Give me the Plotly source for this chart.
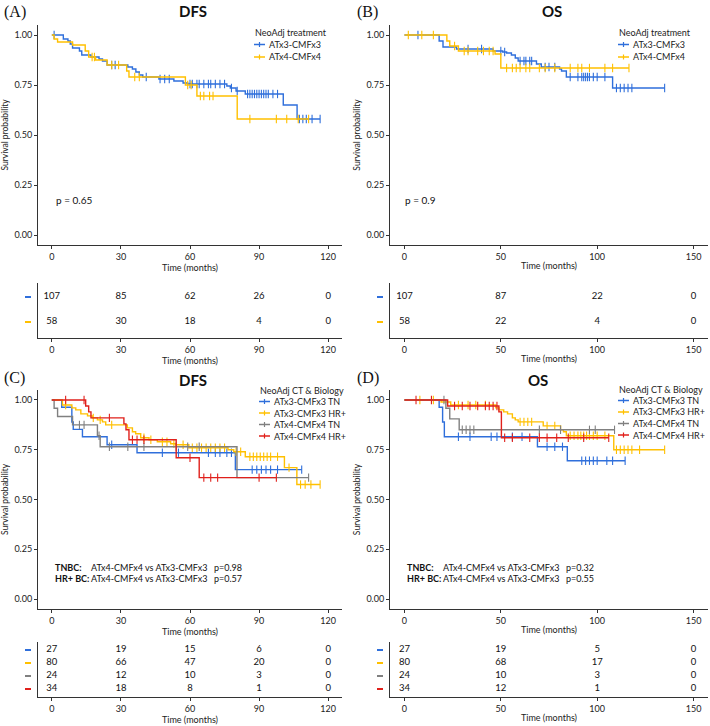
import plotly.graph_objects as go

# ---------------- data ----------------
# Panel A: DFS by NeoAdj treatment
A_labels = ["ATx3-CMFx3", "ATx4-CMFx4"]
A1_t = [5, 7, 8, 9, 12, 13, 17, 20.5, 22, 24, 33, 35, 36.5, 38, 39.5, 46.5, 53, 57, 59, 76, 77.5, 80, 84, 100.5, 106.5]
A1_s = [0.98, 0.97, 0.955, 0.935, 0.92, 0.90, 0.89, 0.88, 0.87, 0.85, 0.84, 0.83, 0.815, 0.80, 0.79, 0.78, 0.77, 0.76, 0.755, 0.745, 0.735, 0.72, 0.705, 0.65, 0.58]
A1_c = [1, 26, 27.5, 41, 47, 49, 51, 60, 61, 63, 64, 66, 68, 69, 71, 73, 75, 78, 80.5, 85, 86, 87, 88, 89, 90, 91, 92, 93, 94, 96, 98, 107.5, 109, 110.5, 113, 116.5]
A2_t = [1, 2.5, 9, 14.5, 16, 19, 24, 32.5, 33.5, 58, 63, 80.5]
A2_s = [0.98, 0.965, 0.95, 0.92, 0.89, 0.875, 0.85, 0.82, 0.79, 0.75, 0.695, 0.58]
A2_c = [17.5, 18.5, 26, 29, 36, 38, 59, 60.5, 64.5, 66, 68.5, 70, 86, 97.5, 102, 107, 111.5]
A_risk_times = [0, 30, 60, 90, 120]
A_risk = [[107, 85, 62, 26, 0], [58, 30, 18, 4, 0]]

# Panel B: OS by NeoAdj treatment
B1_t = [18, 20, 27, 46, 51, 53, 55.5, 57.5, 59, 68.5, 71, 80.5, 81.5, 84, 108]
B1_s = [0.97, 0.94, 0.93, 0.92, 0.915, 0.91, 0.90, 0.885, 0.87, 0.855, 0.84, 0.83, 0.82, 0.79, 0.735]
B1_c = [7, 33, 40, 50, 52, 60, 62, 63, 65, 66, 73, 75, 78, 86, 90, 92, 93, 94, 95, 96, 98, 100, 104, 110, 112, 114, 116, 118, 135]
B2_t = [22, 23.5, 28, 47, 50]
B2_s = [0.97, 0.945, 0.92, 0.905, 0.835]
B2_c = [2, 9, 15, 26, 31, 33, 38, 41, 44, 46, 53, 56, 58, 60, 63, 65, 70, 73, 78, 86, 90, 92, 96, 104, 108, 116.5]
B_risk_times = [0, 50, 100, 150]
B_risk = [[107, 87, 22, 0], [58, 22, 4, 0]]

# Panel C: DFS by CT & biology
CD_labels = ["ATx3-CMFx3 TN", "ATx3-CMFx3 HR+", "ATx4-CMFx4 TN", "ATx4-CMFx4 HR+"]
C1_t = [4.3, 8.7, 9.3, 13.3, 24, 37, 79.7]
C1_s = [0.963, 0.889, 0.852, 0.815, 0.775, 0.735, 0.65]
C1_c = [26, 48, 55, 68, 71, 73, 76, 78, 87, 89, 91, 93, 95, 98, 108.5]
C2_t = [4.6, 8.7, 10.4, 12.6, 15.5, 17.6, 19.8, 22, 23.4, 32.8, 35, 36.4, 38.6, 42.2, 45.8, 51.6, 53.7, 59.5, 76.5, 79, 84, 101, 106.4]
C2_s = [0.975, 0.96, 0.95, 0.93, 0.92, 0.91, 0.90, 0.89, 0.875, 0.86, 0.84, 0.83, 0.81, 0.80, 0.79, 0.78, 0.775, 0.76, 0.75, 0.74, 0.715, 0.66, 0.575]
C2_c = [6, 18, 21, 26, 40, 43, 48, 50, 53, 57, 61, 63, 65, 67, 69, 71, 73, 75, 80, 82, 86, 87.5, 89, 90.5, 92, 93.5, 95, 98, 103, 108, 110, 112.5, 116.5]
C3_t = [1, 2.5, 9, 19.8, 21, 80.4]
C3_s = [0.958, 0.917, 0.875, 0.82, 0.765, 0.61]
C3_c = [12, 14, 20.5, 25, 33, 40, 54, 59, 64, 111.5]
C4_t = [14.7, 16, 17, 31.3, 32.2, 33.5, 54, 64]
C4_s = [0.97, 0.94, 0.91, 0.88, 0.85, 0.80, 0.71, 0.61]
C4_c = [6, 14, 25, 35, 37, 40, 60, 66, 69, 72, 90, 97.5]
C_risk_times = [0, 30, 60, 90, 120]
C_risk = [[27, 19, 15, 6, 0], [80, 66, 47, 20, 0], [24, 12, 10, 3, 0], [34, 18, 8, 1, 0]]

# Panel D: OS by CT & biology
D1_t = [18, 19.8, 20.7, 69, 84.5]
D1_s = [0.963, 0.889, 0.815, 0.765, 0.695]
D1_c = [28, 34, 45, 48, 56, 61, 74, 78, 82, 92, 94, 96, 98, 100, 105, 108, 114.5]
D2_t = [19, 24, 47.4, 49, 51.5, 53.5, 56, 57.5, 59, 72, 81, 82.5, 84, 108.6]
D2_s = [0.99, 0.975, 0.96, 0.95, 0.94, 0.93, 0.91, 0.90, 0.89, 0.87, 0.85, 0.84, 0.82, 0.75]
D2_c = [8, 15, 28, 33, 37, 42, 60, 62, 64, 66, 74, 78, 86, 88, 90, 91.5, 93, 94.5, 96, 98, 100, 104, 110, 112, 114, 116, 118, 122, 135]
D3_t = [21.5, 23.5, 28.4]
D3_s = [0.958, 0.905, 0.85]
D3_c = [20.5, 30, 32, 34, 36, 70, 81, 96, 99, 109]
D4_t = [22.4, 49, 50.3]
D4_s = [0.97, 0.94, 0.81]
D4_c = [6, 14, 26, 30, 34, 38, 42, 44, 46, 48, 52, 56, 65, 70, 74, 79, 85, 93, 106]
D_risk_times = [0, 50, 100, 150]
D_risk = [[27, 19, 5, 0], [80, 68, 17, 0], [24, 10, 3, 0], [34, 12, 1, 0]]

# ---------------- styling ----------------
FONT = "Lato, 'Open Sans', sans-serif"
BLUE, YELLOW, GRAY, RED = "#2f6fdb", "#ffc000", "#808080", "#e0201b"
AX = "#333333"
W, H = 710, 726


def X(px):
    return px / W


def Y(py):
    return 1 - py / H


def surv_at(t, times, surv):
    s = 1.0
    for ti, si in zip(times, surv):
        if ti <= t:
            s = si
    return s


panels = [
    dict(letter="(A)", title="DFS", curves=[(A1_t, A1_s, A1_c, BLUE), (A2_t, A2_s, A2_c, YELLOW)],
         labels=A_labels, legtitle="NeoAdj treatment", xr=[-6, 126], xt=A_risk_times,
         rt=A_risk_times, risk=A_risk, kx=(38, 342), ky=(25, 245), ry=(283, 338),
         letpos=(2, 12), titpos=(193, 11), legpos=(253, 32, 12.5)),
    dict(letter="(B)", title="OS", curves=[(B1_t, B1_s, B1_c, BLUE), (B2_t, B2_s, B2_c, YELLOW)],
         labels=A_labels, legtitle="NeoAdj treatment", xr=[-7.5, 157.5], xt=B_risk_times,
         rt=B_risk_times, risk=B_risk, kx=(390, 708), ky=(25, 245), ry=(283, 338),
         letpos=(355, 12), titpos=(552, 11), legpos=(617, 32, 12.5)),
    dict(letter="(C)", title="DFS", curves=[(C1_t, C1_s, C1_c, BLUE), (C2_t, C2_s, C2_c, YELLOW),
                                            (C3_t, C3_s, C3_c, GRAY), (C4_t, C4_s, C4_c, RED)],
         labels=CD_labels, legtitle="NeoAdj CT & Biology", xr=[-6, 126], xt=C_risk_times,
         rt=C_risk_times, risk=C_risk, kx=(38, 342), ky=(390, 609), ry=(642, 697),
         letpos=(2, 378), titpos=(193, 380), legpos=(258, 390, 11.5)),
    dict(letter="(D)", title="OS", curves=[(D1_t, D1_s, D1_c, BLUE), (D2_t, D2_s, D2_c, YELLOW),
                                           (D3_t, D3_s, D3_c, GRAY), (D4_t, D4_s, D4_c, RED)],
         labels=CD_labels, legtitle="NeoAdj CT & Biology", xr=[-7.5, 157.5], xt=D_risk_times,
         rt=D_risk_times, risk=D_risk, kx=(390, 708), ky=(390, 609), ry=(642, 697),
         letpos=(355, 378), titpos=(538, 380), legpos=(617, 389, 11.5)),
]

fig = go.Figure()
layout = {}
annotations = []
shapes = []

for k, p in enumerate(panels):
    ik, ir = 2 * k + 1, 2 * k + 2
    xk, yk = ("x" if ik == 1 else f"x{ik}"), ("y" if ik == 1 else f"y{ik}")
    xr_, yr_ = f"x{ir}", f"y{ir}"
    axk = "xaxis" if ik == 1 else f"xaxis{ik}"
    ayk = "yaxis" if ik == 1 else f"yaxis{ik}"

    # KM curves
    for (tt, ss, cc, col) in p["curves"]:
        end = max(cc + tt)
        fig.add_trace(go.Scatter(x=[0] + tt + [end], y=[1.0] + ss + [ss[-1]], mode="lines",
                                 line=dict(color=col, width=1.4, shape="hv"),
                                 xaxis=xk, yaxis=yk, showlegend=False, hoverinfo="skip"))
        fig.add_trace(go.Scatter(x=cc, y=[surv_at(c, tt, ss) for c in cc], mode="markers",
                                 marker=dict(symbol="line-ns", size=6, color=col,
                                             line=dict(color=col, width=1.1)),
                                 xaxis=xk, yaxis=yk, showlegend=False, hoverinfo="skip"))

    common_x = dict(range=p["xr"], tickvals=p["xt"], showline=True, linecolor=AX, linewidth=1,
                    ticks="outside", ticklen=3, tickcolor=AX, showgrid=False, zeroline=False,
                    automargin=False,
                    tickfont=dict(size=9, color="#222", family=FONT),
                    title=dict(text="Time (months)", font=dict(size=9, color="#222", family=FONT), standoff=1))
    layout[axk] = dict(domain=[X(p["kx"][0]), X(p["kx"][1])], anchor=yk, **common_x)
    layout[ayk] = dict(domain=[Y(p["ky"][1]), Y(p["ky"][0])], anchor=xk, range=[-0.05, 1.05],
                       tickvals=[0, 0.25, 0.5, 0.75, 1.0], tickformat=".2f", automargin=False,
                       showline=True, linecolor=AX, linewidth=1, ticks="outside", ticklen=3,
                       tickcolor=AX, showgrid=False, zeroline=False,
                       tickfont=dict(size=9, color="#222", family=FONT),
                       title=dict(text="Survival probability", font=dict(size=8.5, color="#222", family=FONT), standoff=4))

    # risk table
    n = len(p["risk"])
    cols = [c[3] for c in p["curves"]]
    rows = [n - r for r in range(n)]
    for r, row in enumerate(p["risk"]):
        fig.add_trace(go.Scatter(x=p["rt"], y=[rows[r]] * len(row), mode="text", text=[str(v) for v in row],
                                 textfont=dict(size=9.5, color="#111", family=FONT), cliponaxis=False,
                                 xaxis=xr_, yaxis=yr_, showlegend=False, hoverinfo="skip"))
    # coloured strata keys left of the risk table
    wpx = p["kx"][1] - p["kx"][0]
    for r in range(n):
        shapes.append(dict(type="line", xref=f"{xr_} domain", yref=yr_, x0=-13 / wpx, x1=-7 / wpx,
                           y0=rows[r], y1=rows[r], line=dict(color=cols[r], width=2)))
    if n == 2:
        yrange = [1 - 16 / 25, 2 + 14 / 25]
    else:
        yrange = [1 - 8 / 13, 4 + 8 / 13]
    layout[f"xaxis{ir}"] = dict(domain=[X(p["kx"][0]), X(p["kx"][1])], anchor=yr_, **common_x)
    layout[f"yaxis{ir}"] = dict(domain=[Y(p["ry"][1]), Y(p["ry"][0])], anchor=xr_, range=yrange,
                                showticklabels=False, automargin=False,
                                showline=True, linecolor=AX, linewidth=1, ticks="", showgrid=False,
                                zeroline=False)

    # panel letter and title
    annotations.append(dict(text=p["letter"], x=X(p["letpos"][0]), y=Y(p["letpos"][1]), xref="paper",
                            yref="paper", xanchor="left", yanchor="middle", showarrow=False,
                            font=dict(size=16, family="Liberation Serif", color="#111")))
    annotations.append(dict(text=f"<b>{p['title']}</b>", x=X(p["titpos"][0]), y=Y(p["titpos"][1]),
                            xref="paper", yref="paper", xanchor="center", yanchor="middle", showarrow=False,
                            font=dict(size=15, family=FONT, color="#111")))

    # manual legend (compact spacing)
    lx, ly, dy = p["legpos"]
    annotations.append(dict(text=p["legtitle"], x=X(lx), y=Y(ly), xref="paper", yref="paper",
                            xanchor="left", yanchor="middle", showarrow=False,
                            font=dict(size=9, family=FONT, color="#222")))
    for j, (lab, col) in enumerate(zip(p["labels"], cols)):
        yy = ly + dy * (j + 1)
        shapes.append(dict(type="line", xref="paper", yref="paper", x0=X(lx + 1), x1=X(lx + 12),
                           y0=Y(yy), y1=Y(yy), line=dict(color=col, width=1.5)))
        shapes.append(dict(type="line", xref="paper", yref="paper", x0=X(lx + 6.5), x1=X(lx + 6.5),
                           y0=Y(yy - 2.5), y1=Y(yy + 2.5), line=dict(color=col, width=1.2)))
        annotations.append(dict(text=lab, x=X(lx + 14), y=Y(yy), xref="paper", yref="paper",
                                xanchor="left", yanchor="middle", showarrow=False,
                                font=dict(size=9, family=FONT, color="#222")))

# p-values panels A, B
annotations.append(dict(text="p = 0.65", x=0, y=0.175, xref="x", yref="y", xanchor="left", xshift=2,
                        showarrow=False, font=dict(size=10, family=FONT, color="#111")))
annotations.append(dict(text="p = 0.9", x=0, y=0.175, xref="x3", yref="y3", xanchor="left", xshift=-1,
                        showarrow=False, font=dict(size=10, family=FONT, color="#111")))

# comparisons panels C, D
comp_rows = [("<b>TNBC:</b>", "ATx4-CMFx4 vs ATx3-CMFx3"), ("<b>HR+ BC:</b>", "ATx4-CMFx4 vs ATx3-CMFx3")]
C_p = ["p=0.98", "p=0.57"]
D_p = ["p=0.32", "p=0.55"]
for (xa, ya, pv, x1, x2) in [("x5", "y5", C_p, 16, 69.7), ("x7", "y7", D_p, 19, 82.8)]:
    for i, ((lab, txt), pp) in enumerate(zip(comp_rows, pv)):
        yy = 0.16 - i * 0.058
        for xx, tx in [(0, lab), (x1, txt), (x2, pp)]:
            annotations.append(dict(text=tx, x=xx, y=yy, xref=xa, yref=ya, xanchor="left",
                                    showarrow=False, xshift=(1 if xx == 0 else 0),
                                    font=dict(size=9, family=FONT, color="#111")))

layout.update(dict(width=W, height=H, margin=dict(l=0, r=0, t=0, b=0, autoexpand=False),
                   paper_bgcolor="white",
                   plot_bgcolor="white", showlegend=False, annotations=annotations, shapes=shapes,
                   font=dict(family=FONT, size=9, color="#222")))
fig.update_layout(**layout)
fig.write_html("out.html", config={"displayModeBar": False},
               post_script="document.body.style.margin='0';document.body.style.overflow='hidden';")
